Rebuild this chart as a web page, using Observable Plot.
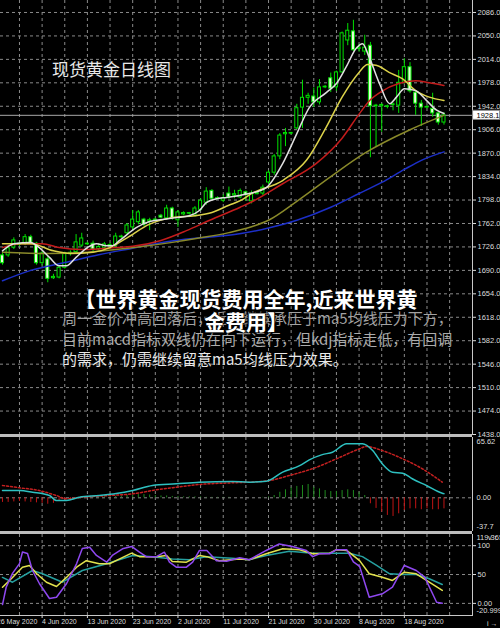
<!DOCTYPE html>
<html><head><meta charset="utf-8">
<script src="https://cdn.jsdelivr.net/npm/d3@7"></script>
<script src="https://cdn.jsdelivr.net/npm/@observablehq/plot@0.6"></script>
<style>
html,body{margin:0;padding:0;background:#000;}
#wrap{position:relative;width:500px;height:628px;background:#000;overflow:hidden;}
#wrap svg{position:absolute;left:0;}
.ov{position:absolute;white-space:nowrap;font-family:"Noto Sans CJK SC","Noto Sans",sans-serif;}
.band{position:absolute;left:0;width:472px;height:3px;background:#bdbdbd;z-index:5;}
</style></head><body><div id="wrap"></div>
<script>
// ---------- DATA ----------
const open  = [1713,1713,1725,1729,1731,1741,1731,1701,1707,1678,1679,1694,1715,1718,1728,1730,1731,1723,1725,1729,
               1728,1741,1747,1756,1764,1768,1765,1767,1774,1770,1785,1767,1776,1777,1774,1783,1794,1812,1800,1797,
               1808,1805,1802,1810,1796,1807,1808,1825,1840,1865,1899,1900,1908,1940,1955,1957,1948,1971,1985,1971,
               1994,2043,2057,2030,2026,2035,1942,1942,1941,1944,1943,1978,2002,1963,1946,1940,1938,1931,1917];
const high  = [1716,1728,1740,1733,1745,1744,1733,1719,1712,1684,1697,1718,1720,1745,1747,1733,1735,1731,1733,1732,
               1747,1744,1762,1782,1782,1770,1770,1770,1776,1790,1787,1782,1780,1779,1788,1800,1817,1814,1803,1806,
               1818,1813,1815,1812,1812,1810,1821,1843,1868,1900,1908,1902,1945,1982,1962,1970,1983,1974,1993,1996,
               2056,2069,2074,2037,2051,2040,1945,1946,1944,1947,1997,2015,2009,1966,1951,1943,1962,1933,1932];
const low   = [1698,1710,1722,1726,1728,1729,1698,1697,1671,1676,1677,1692,1712,1716,1725,1728,1718,1720,1720,1722,
               1724,1739,1745,1751,1760,1757,1751,1766,1769,1767,1767,1756,1774,1775,1772,1781,1790,1798,1798,1794,
               1799,1800,1800,1796,1792,1806,1805,1822,1836,1860,1880,1898,1906,1908,1945,1940,1944,1969,1963,1965,
               1993,2035,2026,2025,2020,1863,1879,1902,1938,1935,1931,1976,1962,1928,1911,1938,1925,1913,1913];
const close = [1701,1724,1736,1731,1741,1731,1701,1716,1677,1680,1694,1716,1717,1733,1739,1731,1722,1726,1730,1727,
               1742,1742,1759,1768,1779,1760,1767,1768,1771,1785,1770,1779,1778,1778,1785,1797,1811,1800,1801,1801,
               1802,1807,1812,1806,1808,1809,1817,1840,1865,1897,1901,1901,1939,1955,1958,1948,1971,1972,1969,1994,
               2054,2058,2028,2032,2032,1942,1943,1944,1942,1945,1978,2002,1965,1946,1940,1941,1931,1917,1928.1];
const lastPrice = 1928.1;

// moving averages (bar index, value)
const ma5Idx  = [0,2,5,6.5,8.3,10,11.3,13,15,16.6,18.4,19.4,20.7,23.7,26,28.3,30.7,33,34.8,36,37.8,39.6,41.9,43.6,46.6,49.5,52,54.2,57.2,59,60.7,62.5,63.6,64.8,66.6,68.4,69.6,71,73,74.9,76.7,78];
const ma5Val  = [1720,1731,1733,1725,1710,1697,1697,1710,1725,1731,1728,1728,1736,1756,1765,1768,1771,1774,1782,1794,1800,1802,1805,1808,1817,1854,1900,1940,1963,1977,2002,2031,2038,2017,1977,1946,1956,1969,1966,1951,1936,1931];
const ma10Idx = [0,5,9,12,16,19,22,26,30,34,37,40,42,44,49.5,53.7,57.2,60,63,64.5,66,68.3,70.7,73,75.4,78];
const ma10Val = [1731,1731,1720,1716,1718,1725,1740,1761,1771,1774,1779,1790,1797,1808,1828,1859,1910,1956,1994,2006,2005,1994,1984,1966,1956,1951];
const ma20Idx = [0,3,7,10,14,17,20,23,28,32.5,36.6,42,44,49.5,55.4,60,63,65,67,70,73,75.4,78];
const ma20Val = [1725,1731,1731,1725,1722,1723,1725,1727,1736,1751,1767,1787,1795,1823,1854,1893,1930,1952,1965,1977,1981,1978,1974];
const maOlIdx = [0,8,15,20,25,30,35,40,44,47,52,58,64,72,78];
const maOlVal = [1718,1716,1718,1722,1727,1733,1740,1748,1757,1767,1796,1834,1870,1906,1928];
const maBlIdx = [0,5,11,17,23,29,35,41,47,52,58,63,67,71,74,78];
const maBlVal = [1674,1690,1702,1714,1724,1734,1740,1745,1755,1767,1787,1808,1825,1845,1859,1872];

// MACD
const difIdx = [0,3,5.3,8.3,9.5,11.3,13.6,17.1,20.1,23,26.5,30.7,34.8,40.6,43.6,46.6,49.5,52.5,54.2,56.5,58.3,60.8,63.6,65.4,67.1,68.9,70.7,72.4,74.9,77.7,78];
const difVal = [7.9,7.9,6.1,2.5,-2.9,-2.9,0.7,2.5,4.6,7.9,13.4,15.2,17,17.7,17,18,27.9,35,41.3,47,49.6,58.7,58.7,51.4,37,27.8,26.8,20.7,13.4,5,4.5];
const deaIdx = [0,3,6.5,9.5,11.3,14.1,18.9,23,27.2,30.7,34.8,40.6,43.6,47.2,50.7,55.5,59,63.1,64.3,67.1,70.7,74.2,77.7];
const deaVal = [13.4,10.9,7.9,2.5,-1.1,0.7,2.5,4.3,8.7,11.5,14.5,16.3,17,18.8,24.3,33.3,42.4,53.3,55.8,51.4,42.4,31.5,17];
const histVal = [-5,-5,-4.5,-4,-4.5,-5,-5.5,-6,-7,-6,-4,-2.5,-1.5,-1,-0.5,0,0.5,0.5,1,1,
                 1.5,2,2.5,3,3.5,3.5,3,2.5,2,2,1.5,1.5,1,1,1,1,0.5,0.5,0.5,0.5,
                 0.5,0,0,0,0,0,0.5,1,2.5,6,8.7,11,12.4,13.4,14.5,11.5,9.7,7.9,6.8,7,
                 7.9,8.7,7.9,6,2.5,-6.5,-11.6,-15.6,-19.2,-20.3,-17.4,-13.8,-12,-12,-13,-12,-13,-13,-12];

// KDJ
const jIdx = [0,0.65,1.77,3,3.53,4.42,5.3,6.54,8.3,9.54,11.3,13.1,14.1,15.4,16.6,18.4,19.4,21.2,22.8,24.2,25.4,27.2,28.6,29.5,30.7,32.5,33.6,34.8,36.1,37.8,39.6,41.9,43.6,46.6,48.9,51.2,53.7,54.8,56,57.8,59,60.8,62,63.1,64.8,67.1,68.9,71,73.1,74.6,76.7,77.7];
const jVal = [-2,28,52,69,89,86.5,57,34,8.5,10.7,34,69,95,97.4,83,71.4,83,94.6,98.6,88.7,81,81,88.7,71.4,62.7,62.7,71.4,91.7,91.7,74,73,79,75.6,91.7,103,98.6,91.7,81,86,86,93,93,72,64,10.7,16.6,28,65.7,57,45.4,2,0.3];
const kIdx = [0,1.77,3.53,4.77,6,7.77,9.54,11.3,13.1,14.8,17.1,18.9,20.7,22.8,24.2,27.2,29,30,32.5,34.8,36.1,38.3,41.9,43.6,46.6,49.5,52.5,54.8,57.8,59,60.8,63.1,64.8,67.1,68.9,71,73.1,75.4,77.7];
const kVal = [28,45,62.7,65.7,51.8,36.7,29.3,45,62.7,74,68.6,68.6,77,87,81,81,83,72.6,71.4,83,81,74,77,75.6,86,94.6,93,86,87,93,91.7,74,51.3,45.4,39.7,54,51.3,36.7,22.4];
const dIdx = [0,1.77,5.3,7.07,10.6,14.1,18.4,23,26.5,30,33,36,40.6,43.6,46.6,50.7,54.8,57.8,61.3,63.6,66.1,68.4,70.7,73.1,75.4,77.7];
const dVal = [45,36.7,57,51.3,36.7,57,68.6,83,81,77,75.6,81,78.3,75.6,83,90.5,87,87,87,81,65.7,51.3,50,50,42.6,32.8];

// ticks / labels
const priceTicks = [1438,1474,1510,1546,1582,1618,1654,1690,1726,1762,1798,1834,1870,1906,1942,1978,2014,2050,2086];
const gridIdx = [3,7,11,15,19,23,27,31,35,39,43,47,51,55,59,63,67,71,75,79];
const dateIdx = [-1,7,15,23,31,39,47,55,63,71];
const dateLabels = ["26 May 2020","4 Jun 2020","13 Jun 2020","23 Jun 2020","2 Jul 2020","11 Jul 2020","21 Jul 2020","30 Jul 2020","8 Aug 2020","18 Aug 2020"];
const macdTop = 65.62, macdZero = 0, macdBottom = -37.7;
const kdjTicks = [100, 50, 0];
const kdjTop = 119.365, kdjBottom = -20.9997;

// ---------- BUILD ----------
const wrap = document.getElementById("wrap");
const xDomain = [-0.3534, 83.04];
const GRID = "#8a8a8a", AX = "#dcdcdc", BORDER = "#c8c8c8";
const common = {width: 500, marginLeft: 0, marginRight: 28,
  style: {background: "transparent", color: AX, fontFamily: "Liberation Sans, Arial, sans-serif", fontSize: "7.5px"}};
const pts = (idx, val) => idx.map((i, k) => ({i, v: val[k]}));
const candles = open.map((o, i) => ({i, o, h: high[i], l: low[i], c: close[i], up: close[i] >= o}));
const gx = () => Plot.gridX(gridIdx, {stroke: GRID, strokeOpacity: 1, strokeDasharray: "3,3"});
const edgeLabel = (v, anchor, dy, txt) => Plot.text([v], {y: d => d, frameAnchor: "right", dx: 4, dy, textAnchor: "start",
  lineAnchor: anchor, fill: AX, text: () => txt});

const A = Plot.plot({...common, height: 440, marginTop: 0, marginBottom: 6,
  x: {domain: xDomain, axis: null},
  y: {domain: [1438, 2104.4], axis: null},
  marks: [
    Plot.gridY(priceTicks, {stroke: GRID, strokeOpacity: 1, strokeDasharray: "3,3"}),
    gx(),
    Plot.ruleY([lastPrice], {stroke: "#a9a9a9"}),
    Plot.ruleX(candles, {x: "i", y1: "l", y2: "h", stroke: "#00e000"}),
    Plot.rect(candles, {x1: d => d.i - 0.5, x2: d => d.i + 0.5, y1: "o", y2: "c", insetLeft: 1.3, insetRight: 1.3,
      fill: d => d.up ? "#000" : "#e6ffd8", stroke: "#00e000"}),
    Plot.line(pts(maBlIdx, maBlVal), {x: "i", y: "v", stroke: "#1c2fc8", curve: "monotone-x"}),
    Plot.line(pts(maOlIdx, maOlVal), {x: "i", y: "v", stroke: "#8a8a2a", curve: "monotone-x"}),
    Plot.line(pts(ma20Idx, ma20Val), {x: "i", y: "v", stroke: "#c41c1c", curve: "monotone-x"}),
    Plot.line(pts(ma10Idx, ma10Val), {x: "i", y: "v", stroke: "#dcd24a", curve: "monotone-x"}),
    Plot.line(pts(ma5Idx, ma5Val), {x: "i", y: "v", stroke: "#e0e0e0", curve: "monotone-x"}),
    Plot.axisY(priceTicks, {anchor: "right", tickSize: 3, tickPadding: 2, tickFormat: d => d.toFixed(1), stroke: AX, fill: AX}),
    Plot.frame({anchor: "right", stroke: BORDER}),
    // current-price tag: white box in the price-axis gutter, then the value in black
    Plot.rect([lastPrice], {x1: () => xDomain[1] + 0.1, x2: () => xDomain[1] + 4.9, y1: d => d - 7, y2: d => d + 7,
      fill: "#fff", stroke: "#888"}),
    Plot.text([lastPrice], {y: d => d, frameAnchor: "right", dx: 4, textAnchor: "start", text: d => d.toFixed(1), fill: "#000"})
  ]});
A.style.top = "0px";
wrap.appendChild(A);

const B = Plot.plot({...common, height: 97, marginTop: 3, marginBottom: 0,
  x: {domain: xDomain, axis: null},
  y: {domain: [-36.67, 65.62], axis: null},
  marks: [
    gx(),
    Plot.ruleY([0], {stroke: GRID, strokeDasharray: "3,3"}),
    Plot.ruleX(histVal.map((v, i) => ({i, v})), {x: "i", y1: 0, y2: "v", stroke: d => d.v >= 0 ? "#1f8a1f" : "#c01414"}),
    Plot.line(pts(deaIdx, deaVal), {x: "i", y: "v", stroke: "#c42020", strokeDasharray: "2,2", curve: "monotone-x"}),
    Plot.line(pts(difIdx, difVal), {x: "i", y: "v", stroke: "#2ec0c0", curve: "monotone-x"}),
    edgeLabel(macdTop, "top", 1, macdTop.toFixed(2)),
    edgeLabel(macdZero, "middle", 0, macdZero.toFixed(2)),
    edgeLabel(macdBottom, "bottom", -3, String(macdBottom)),
    Plot.frame({anchor: "right", stroke: BORDER})
  ]});
B.style.top = "434px";
wrap.appendChild(B);

const C = Plot.plot({...common, height: 97, marginTop: 3, marginBottom: 13,
  x: {domain: xDomain},
  y: {domain: [kdjBottom, kdjTop], axis: null},
  marks: [
    gx(),
    Plot.gridY(kdjTicks, {stroke: GRID, strokeOpacity: 1, strokeDasharray: "3,3"}),
    Plot.line(pts(dIdx, dVal), {x: "i", y: "v", stroke: "#26a0a0"}),
    Plot.line(pts(kIdx, kVal), {x: "i", y: "v", stroke: "#e2e24e"}),
    Plot.line(pts(jIdx, jVal), {x: "i", y: "v", stroke: "#8f48f0"}),
    Plot.axisY(kdjTicks, {anchor: "right", tickSize: 3, tickPadding: 2, stroke: AX, fill: AX,
      tickFormat: d => d === 0 ? "0.00" : String(d)}),
    edgeLabel(kdjTop, "top", 0.5, String(kdjTop)),
    edgeLabel(kdjBottom, "bottom", -3, String(kdjBottom)),
    Plot.axisX(dateIdx, {anchor: "bottom", tickSize: 3, tickPadding: 1, textAnchor: "start", stroke: AX, fill: AX, fontSize: 7,
      tickFormat: d => dateLabels[dateIdx.indexOf(d)]}),
    Plot.frame({anchor: "bottom", stroke: BORDER}),
    Plot.frame({anchor: "right", stroke: BORDER})
  ]});
C.style.top = "531px";
wrap.appendChild(C);

// separator bands
for (const y of [434, 531]) {
  const b = document.createElement("div"); b.className = "band"; b.style.top = y + "px"; wrap.appendChild(b);
}

// overlay texts
function ov(txt, css) {
  const d = document.createElement("div"); d.className = "ov"; d.textContent = txt;
  Object.assign(d.style, css); wrap.appendChild(d); return d;
}
ov("现货黄金日线图", {left: "52px", top: "59.5px", fontSize: "17px", lineHeight: "17px", color: "#e8e8e8", zIndex: 6});
const para = ["周一金价冲高回落后，近日继续承压于ma5均线压力下方，", "目前macd指标双线仍在向下运行，但kdj指标走低，有回调", "的需求，仍需继续留意ma5均线压力效果。"];
const paraTop = [309.7, 330.7, 351.2], paraCol = ["#a2a2a2", "#acacac", "#e8e8e8"];
para.forEach((p, k) => ov(p, {left: "62px", top: paraTop[k] + "px", fontSize: "15px", lineHeight: "15px", color: paraCol[k], zIndex: 6}));
const titleLines = ["【世界黄金现货费用全年,近来世界黄", "金费用】"];
const titleTop = [288.3, 310.8];
titleLines.forEach((t, k) => ov(t, {left: "0px", width: "492px", textAlign: "center", top: titleTop[k] + "px", fontSize: "21px", lineHeight: "21px",
  fontWeight: "bold", color: "#ffffff", textShadow: "0 0 2px #000, 0 0 2px #000, 0 0 3px #000", zIndex: 7}));
</script></body></html>
